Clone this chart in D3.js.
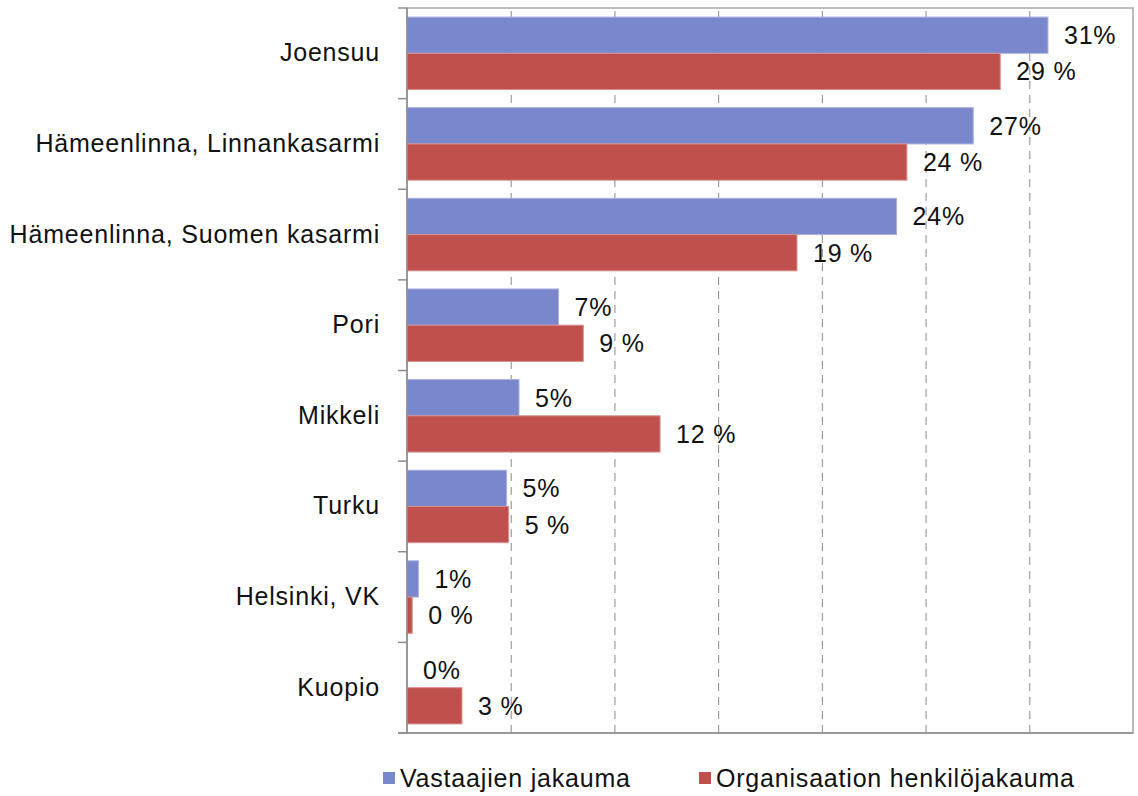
<!DOCTYPE html>
<html>
<head>
<meta charset="utf-8">
<script src="https://cdn.jsdelivr.net/npm/d3@7"></script>
<style>
  body { margin: 0; background: #fff; }
  svg text { font-family: "Liberation Sans", Arial, sans-serif; fill: #111; letter-spacing: 0.8px; }
</style>
</head>
<body>
<svg id="chart"></svg>
<script>
const categories = ["Joensuu", "Hämeenlinna, Linnankasarmi", "Hämeenlinna, Suomen kasarmi",
  "Pori", "Mikkeli", "Turku", "Helsinki, VK", "Kuopio"];
const seriesNames = ["Vastaajien jakauma", "Organisaation henkilöjakauma"];
const respondents = [30.9, 27.3, 23.6, 7.3, 5.4, 4.8, 0.55, 0];
const organisation = [28.6, 24.1, 18.8, 8.5, 12.2, 4.9, 0.25, 2.65];
const respondentLabels = ["31%", "27%", "24%", "7%", "5%", "5%", "1%", "0%"];
const organisationLabels = ["29 %", "24 %", "19 %", "9 %", "12 %", "5 %", "0 %", "3 %"];
const xTicks = [0, 5, 10, 15, 20, 25, 30, 35];

const width = 1138, height = 796;
const margin = { top: 8, right: 5, bottom: 63, left: 407 };
const innerW = width - margin.left - margin.right;
const innerH = height - margin.top - margin.bottom;
const colors = ["#7987cd", "#c0504d"];

const svg = d3.select("#chart").attr("width", width).attr("height", height);
const g = svg.append("g").attr("transform", `translate(${margin.left},${margin.top})`);

const x = d3.scaleLinear().domain([0, 35]).range([0, innerW]);
const y = d3.scaleBand().domain(categories).range([0, innerH]).paddingInner(0.2).paddingOuter(0.1);
const ySub = d3.scaleBand().domain([0, 1]).range([0, y.bandwidth()]);

// dashed gridlines
g.append("g")
  .attr("transform", `translate(0,${innerH})`)
  .call(d3.axisBottom(x).tickValues(xTicks.slice(1, -1)).tickSize(-innerH).tickFormat(""))
  .call(a => a.select(".domain").remove())
  .call(a => a.selectAll("line").attr("stroke", "#8a8a8a").attr("stroke-dasharray", "8,6"));

// plot border
g.append("rect")
  .attr("width", innerW).attr("height", innerH)
  .attr("fill", "none").attr("stroke", "#a6a6a6").attr("stroke-width", 1.5);

// bars
const rows = categories.map((c, i) => ({
  c, vals: [respondents[i], organisation[i]], labels: [respondentLabels[i], organisationLabels[i]]
}));

const grp = g.selectAll("g.cat").data(rows).enter().append("g")
  .attr("class", "cat")
  .attr("transform", d => `translate(0,${y(d.c)})`);

grp.selectAll("rect").data(d => d.vals.map((v, k) => ({ v, k })).filter(e => e.v > 0))
  .enter().append("rect")
  .attr("x", 0)
  .attr("y", d => ySub(d.k))
  .attr("width", d => x(d.v))
  .attr("height", ySub.bandwidth())
  .attr("fill", d => colors[d.k])
  .attr("stroke", d => d.k === 0 ? "#a9b1e0" : "#d8908e")
  .attr("stroke-width", 1);

grp.selectAll("text.val").data(d => d.vals.map((v, k) => ({ v, k, label: d.labels[k] })))
  .enter().append("text")
  .attr("class", "val")
  .attr("x", d => x(d.v) + 16)
  .attr("y", d => ySub(d.k) + ySub.bandwidth() / 2)
  .attr("dy", "0.36em")
  .style("font-size", "25px")
  .text(d => d.label);

// left axis with category labels
g.append("g")
  .call(d3.axisLeft(y).tickSize(0).tickPadding(27))
  .call(a => a.select(".domain").remove())
  .call(a => a.selectAll("text").style("font-size", "25px").attr("fill", "#111"));

const step = y.step();
g.append("g").selectAll("line")
  .data(d3.range(categories.length + 1))
  .enter().append("line")
  .attr("x1", -9).attr("x2", 0)
  .attr("y1", i => i * step).attr("y2", i => i * step)
  .attr("stroke", "#8c8c8c").attr("stroke-width", 1.5);

g.append("line").attr("x1", 0).attr("x2", 0).attr("y1", 0).attr("y2", innerH)
  .attr("stroke", "#8c8c8c").attr("stroke-width", 1.5);
g.append("line").attr("x1", -9).attr("x2", innerW).attr("y1", innerH).attr("y2", innerH)
  .attr("stroke", "#8c8c8c").attr("stroke-width", 1.5);

// legend
const legendX = [383, 699];
const legend = svg.append("g").selectAll("g").data(seriesNames).enter().append("g")
  .attr("transform", (d, i) => `translate(${legendX[i]},778)`);
legend.append("rect").attr("x", 0).attr("y", -6).attr("width", 12).attr("height", 12)
  .attr("fill", (d, i) => colors[i]);
legend.append("text").attr("x", 17).attr("dy", "0.36em").style("font-size", "25px").text(d => d);
</script>
</body>
</html>
